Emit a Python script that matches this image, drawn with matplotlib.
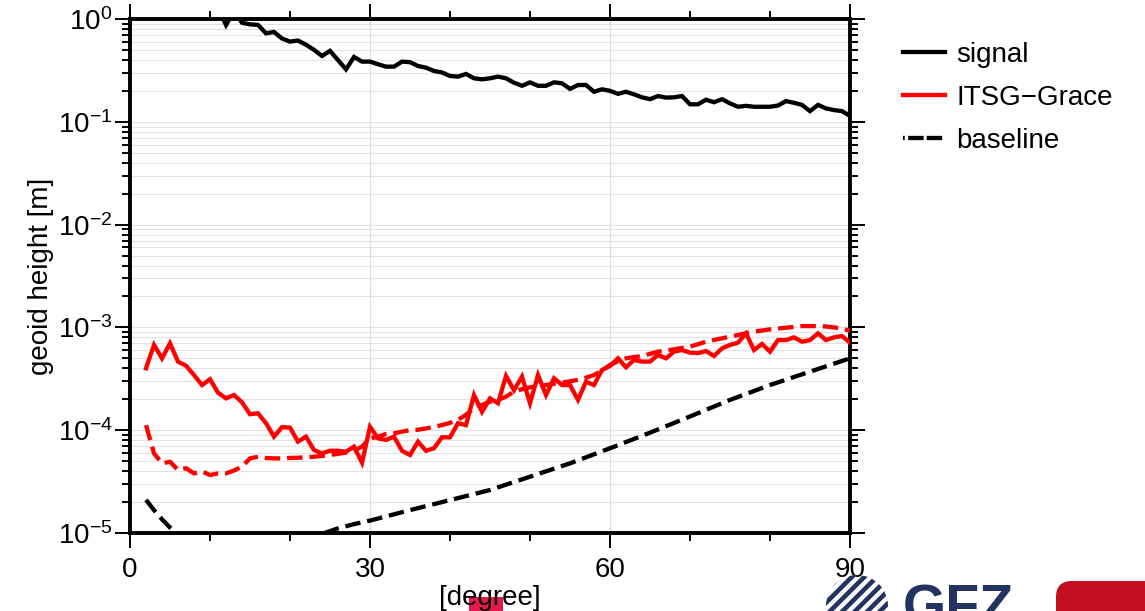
import numpy as np
import matplotlib
matplotlib.use("Agg")
import matplotlib.pyplot as plt
from matplotlib.ticker import MultipleLocator, LogLocator, NullFormatter
from matplotlib.patches import Rectangle, Circle, Polygon, FancyBboxPatch
from matplotlib.lines import Line2D
from matplotlib.transforms import IdentityTransform

# ---------------------------------------------------------------- data
degrees = list(range(2, 91))

signal = [14.0, 6.0, 4.5, 3.0, 2.6, 2.2, 1.9, 1.7, 1.5, 1.3, 0.875, 1.2,
          0.92, 0.887, 0.875, 0.726, 0.748, 0.646, 0.603, 0.617, 0.562, 0.501,
          0.437, 0.490, 0.398, 0.324, 0.427, 0.385, 0.385, 0.363, 0.344, 0.344,
          0.385, 0.380, 0.349, 0.336, 0.312, 0.302, 0.279, 0.275, 0.292, 0.265,
          0.259, 0.265, 0.275, 0.265, 0.240, 0.224, 0.242, 0.224, 0.224, 0.242,
          0.237, 0.209, 0.228, 0.228, 0.196, 0.207, 0.200, 0.187, 0.196, 0.185,
          0.173, 0.166, 0.178, 0.172, 0.173, 0.178, 0.148, 0.148, 0.164, 0.155,
          0.166, 0.151, 0.140, 0.143, 0.140, 0.140, 0.140, 0.144, 0.159, 0.153,
          0.146, 0.127, 0.146, 0.135, 0.130, 0.127, 0.114]

itsg_grace = [4.0e-4, 6.75e-4, 5.0e-4, 7.0e-4, 4.65e-4, 4.24e-4, 3.44e-4,
              2.75e-4, 3.13e-4, 2.32e-4, 2.04e-4, 2.20e-4, 1.87e-4, 1.43e-4,
              1.46e-4, 1.17e-4, 8.65e-5, 1.07e-4, 1.06e-4, 7.73e-5, 8.65e-5,
              6.41e-5, 5.96e-5, 6.31e-5, 6.31e-5, 6.18e-5, 6.92e-5, 4.83e-5,
              1.08e-4, 8.34e-5, 8.04e-5, 8.65e-5, 6.31e-5, 5.74e-5, 7.73e-5,
              6.31e-5, 6.67e-5, 8.53e-5, 8.53e-5, 1.17e-4, 1.12e-4, 2.20e-4,
              1.51e-4, 2.04e-4, 1.83e-4, 3.37e-4, 2.45e-4, 3.32e-4, 1.83e-4,
              3.44e-4, 2.20e-4, 3.20e-4, 2.75e-4, 2.75e-4, 1.97e-4, 2.96e-4,
              2.75e-4, 3.85e-4, 4.22e-4, 5.0e-4, 4.09e-4, 4.82e-4, 4.65e-4,
              4.65e-4, 5.40e-4, 5.0e-4, 5.81e-4, 6.03e-4, 5.68e-4, 5.62e-4,
              5.89e-4, 5.27e-4, 6.25e-4, 6.75e-4, 7.10e-4, 8.75e-4, 6.03e-4,
              6.90e-4, 5.81e-4, 7.53e-4, 7.53e-4, 8.0e-4, 7.26e-4, 7.53e-4,
              8.75e-4, 7.53e-4, 8.0e-4, 8.24e-4, 7.10e-4]

itsg_grace_formal = [1.12e-4, 5.96e-5, 4.76e-5, 4.94e-5, 4.10e-5, 4.27e-5,
                     3.80e-5, 3.98e-5, 3.66e-5, 3.80e-5, 3.80e-5, 4.05e-5,
                     4.42e-5, 5.32e-5, 5.52e-5, 5.37e-5, 5.32e-5, 5.32e-5,
                     5.37e-5, 5.40e-5, 5.45e-5, 5.52e-5, 5.62e-5, 5.74e-5,
                     5.89e-5, 6.05e-5, 6.31e-5, 6.92e-5, 8.34e-5, 8.65e-5,
                     9.18e-5, 9.33e-5, 9.68e-5, 1.0e-4, 1.01e-4, 1.04e-4,
                     1.08e-4, 1.12e-4, 1.18e-4, 1.26e-4, 1.41e-4, 1.63e-4,
                     1.76e-4, 1.89e-4, 1.97e-4, 2.12e-4, 2.37e-4, 2.51e-4,
                     2.61e-4, 2.69e-4, 2.75e-4, 2.83e-4, 2.90e-4, 2.99e-4,
                     3.09e-4, 3.24e-4, 3.44e-4, 3.80e-4, 4.31e-4, 4.68e-4,
                     5.01e-4, 5.14e-4, 5.27e-4, 5.53e-4, 5.81e-4, 5.96e-4,
                     6.12e-4, 6.31e-4, 6.49e-4, 6.87e-4, 7.26e-4, 7.55e-4,
                     7.83e-4, 8.13e-4, 8.43e-4, 8.75e-4, 9.08e-4, 9.33e-4,
                     9.57e-4, 9.75e-4, 9.93e-4, 1.01e-3, 1.03e-3, 1.03e-3,
                     1.03e-3, 1.02e-3, 1.0e-3, 9.73e-4, 9.29e-4]

baseline_degrees = [2, 3, 4, 5, 6, 8, 10, 12, 14, 16, 18, 20, 22, 24, 26, 28,
                    30, 35, 40, 45, 50, 55, 60, 65, 70, 75, 80, 85, 90]
baseline = [2.1e-5, 1.67e-5, 1.36e-5, 1.13e-5, 9.6e-6, 7.6e-6, 6.6e-6, 6.1e-6,
            6.0e-6, 6.3e-6, 6.9e-6, 7.7e-6, 8.7e-6, 9.8e-6, 1.11e-5, 1.22e-5,
            1.32e-5, 1.67e-5, 2.09e-5, 2.62e-5, 3.53e-5, 4.76e-5, 6.67e-5,
            9.46e-5, 1.36e-4, 1.97e-4, 2.75e-4, 3.71e-4, 5.0e-4]

legend_labels = ["signal", "ITSG\u2212Grace", "baseline"]

# ---------------------------------------------------------------- style
plt.rcParams["font.family"] = ["Liberation Sans", "DejaVu Sans"]
plt.rcParams["mathtext.fontset"] = "custom"
plt.rcParams["mathtext.rm"] = "Liberation Sans"
plt.rcParams["mathtext.it"] = "Liberation Sans:italic"
plt.rcParams["mathtext.bf"] = "Liberation Sans:bold"
plt.rcParams["axes.unicode_minus"] = True

W, H = 1145, 611
fig = plt.figure(figsize=(W / 100, H / 100), dpi=100)
ax = fig.add_axes([130 / W, 1 - 533 / H, 720 / W, 514 / H])

LW = 3.1
DASH = (3.6, 1.6)

l_sig, = ax.plot(degrees, signal, color="black", lw=LW, solid_joinstyle="miter", zorder=4)
l_grace, = ax.plot(degrees, itsg_grace, color="#ff0000", lw=LW, solid_joinstyle="miter", zorder=4)
ax.plot(degrees, itsg_grace_formal, color="#ff0000", lw=LW, dashes=DASH, zorder=3)
ax.plot(baseline_degrees, baseline, color="black", lw=LW, dashes=DASH, zorder=3)

# legend key for the dashed baseline starts with a short stub of the pattern
base_key = Line2D([], [], color="black", lw=LW, dashes=(0.4, 0.8, 3.6, 0.7, 3.6, 1.6))

ax.set_yscale("log")
ax.set_xlim(0, 90)
ax.set_ylim(1e-5, 1e0)

ax.xaxis.set_major_locator(MultipleLocator(30))
ax.xaxis.set_minor_locator(MultipleLocator(10))
ax.yaxis.set_major_locator(LogLocator(base=10, numticks=10))
ax.yaxis.set_minor_locator(LogLocator(base=10, subs=np.arange(2, 10), numticks=20))
ax.yaxis.set_minor_formatter(NullFormatter())

ax.grid(axis="y", which="both", color="#e2e2e2", lw=0.8, zorder=0)
ax.grid(axis="x", which="major", color="#dcdcdc", lw=0.8, zorder=0)
ax.set_axisbelow(True)

for sp in ax.spines.values():
    sp.set_linewidth(2.8)

ax.tick_params(which="both", direction="out", top=True, right=True,
               labeltop=False, labelright=False, width=1.4, labelsize=20)
ax.tick_params(which="major", length=10.5)
ax.tick_params(which="minor", length=5.5)
ax.tick_params(axis="x", which="major", pad=7)
ax.tick_params(axis="y", which="major", pad=2)

ax.set_xlabel("[degree]", fontsize=20)
ax.set_ylabel("geoid height [m]", fontsize=20)
ax.xaxis.set_label_coords(0.5, -0.101)
ax.yaxis.set_label_coords(-0.106, 0.5)

leg = ax.legend([l_sig, l_grace, base_key], legend_labels,
                loc="upper left", bbox_to_anchor=(903 / W, 1 - 42 / H),
                bbox_transform=fig.transFigure, frameon=False, fontsize=20,
                borderpad=0, borderaxespad=0, handlelength=1.5,
                handletextpad=0.42, labelspacing=0.61)

# ---------------------------------------------------------------- page decorations
ident = IdentityTransform()


def px(x, y_top):
    """Pixel coordinates measured from the top-left corner to display space."""
    return x, H - y_top


# magenta block behind the x label
fig.patches.append(Rectangle(px(469, 611), 34, 14, transform=ident,
                             facecolor="#e5194f", edgecolor="none", zorder=-1))

navy = "#22335f"
# striped round emblem
cx, cy = px(857, 606)
emblem = Circle((cx, cy), 31, transform=ident, facecolor="none", edgecolor="none")
fig.patches.append(emblem)
for k in range(-6, 7):
    off = k * 12.5
    band = Polygon([(cx - 60 + off, cy - 60), (cx - 60 + off + 6.5, cy - 60),
                    (cx + 60 + off + 6.5, cy + 60), (cx + 60 + off, cy + 60)],
                   closed=True, transform=ident, facecolor=navy, edgecolor="none")
    band.set_clip_path(emblem)
    fig.patches.append(band)

fig.text(903 / W, -12 / H, "GFZ", fontsize=40, fontweight="bold", color=navy,
         ha="left", va="baseline")

fig.patches.append(FancyBboxPatch(px(1056, 640), 120, 59, transform=ident,
                                  boxstyle="round,pad=0,rounding_size=16",
                                  facecolor="#c20e23", edgecolor="none"))

fig.savefig("out.png", dpi=100)
